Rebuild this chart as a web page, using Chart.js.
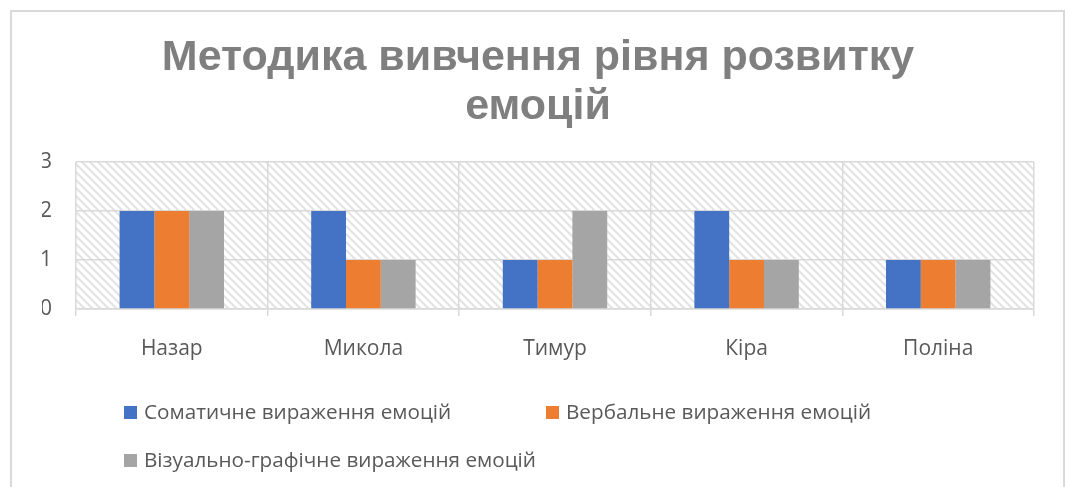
<!DOCTYPE html>
<html lang="uk">
<head>
<meta charset="utf-8"/>
<title>Методика вивчення рівня розвитку емоцій</title>
<script src="https://cdn.jsdelivr.net/npm/chart.js"></script>
<style>
  body { margin: 0; background: #fff; font-family: "Open Sans", sans-serif; }
  #wrap { position: relative; width: 1065px; height: 487px; overflow: hidden; }
  #frame { position: absolute; left: 10px; top: 10px; width: 1051px; height: 520px; border: 2px solid #d9d9d9; }
  canvas { position: absolute; left: 0; top: 0; }
  .leg { position: absolute; font-size: 20.7px; color: #595959; white-space: nowrap; line-height: 26px; }
  .leg i { display: inline-block; width: 13px; height: 13px; margin-right: 7px; vertical-align: 0px; }
</style>
</head>
<body>
<div id="wrap">
  <div id="frame"></div>
  <canvas id="grafik" width="1065" height="487"></canvas>
  <div id="legend"></div>
</div>
<script>
const judul = ["Методика вивчення рівня розвитку", "емоцій"];
const imena = ["Назар", "Микола", "Тимур", "Кіра", "Поліна"];
const seriNama = ["Соматичне вираження емоцій", "Вербальне вираження емоцій", "Візуально-графічне вираження емоцій"];
const somatic = [2, 2, 1, 2, 1];
const verbal = [2, 1, 1, 1, 1];
const visual = [2, 1, 2, 1, 1];
const warna = ["#4472c4", "#ed7d31", "#a5a5a5"];

// legend like in Excel: two columns
const posLegend = [[124, 398], [546, 398], [124, 446]];
const legEl = document.getElementById("legend");
seriNama.forEach((nama, i) => {
  const d = document.createElement("div");
  d.className = "leg";
  d.style.left = posLegend[i][0] + "px";
  d.style.top = posLegend[i][1] + "px";
  d.innerHTML = '<i style="background:' + warna[i] + '"></i>' + nama;
  legEl.appendChild(d);
});

// diagonal hatch in plot area
function buatPola() {
  const c = document.createElement("canvas");
  c.width = 8; c.height = 8;
  const g = c.getContext("2d");
  g.fillStyle = "#ffffff";
  g.fillRect(0, 0, 8, 8);
  g.strokeStyle = "#e3e3e3";
  g.lineWidth = 2;
  g.beginPath();
  g.moveTo(-2, -2); g.lineTo(10, 10);
  g.moveTo(-10, -2); g.lineTo(2, 10);
  g.moveTo(6, -2); g.lineTo(18, 10);
  g.stroke();
  return c;
}

const latarArsir = {
  id: "latarArsir",
  beforeDraw(chart) {
    const { ctx, chartArea: a } = chart;
    ctx.save();
    ctx.fillStyle = ctx.createPattern(buatPola(), "repeat");
    ctx.fillRect(a.left, a.top, a.right - a.left, a.bottom - a.top);
    ctx.restore();
  }
};

new Chart(document.getElementById("grafik"), {
  type: "bar",
  data: {
    labels: imena,
    datasets: [
      { label: seriNama[0], data: somatic, backgroundColor: warna[0] },
      { label: seriNama[1], data: verbal, backgroundColor: warna[1] },
      { label: seriNama[2], data: visual, backgroundColor: warna[2] }
    ]
  },
  options: {
    responsive: false,
    animation: false,
    layout: { padding: { left: 42, right: 31, top: 0, bottom: 118 } },
    datasets: { bar: { categoryPercentage: 0.545, barPercentage: 1 } },
    plugins: {
      legend: { display: false },
      tooltip: { enabled: false },
      title: {
        display: true,
        text: judul,
        color: "#7f7f7f",
        font: { family: "Liberation Sans", size: 43, weight: "bold", lineHeight: 1.14 },
        padding: { top: 34, bottom: 30 }
      }
    },
    scales: {
      x: {
        grid: { color: "#d9d9d9", lineWidth: 1.5, tickLength: 7 },
        border: { color: "#d9d9d9", width: 1.5 },
        ticks: { color: "#595959", font: { family: "Open Sans", size: 21 }, padding: 20 },
        afterFit(s) { s.height = 60; }
      },
      y: {
        min: 0, max: 3,
        ticks: { stepSize: 1, color: "#595959", font: { family: "Open Sans", size: 21 }, padding: 24 },
        grid: { color: "#d9d9d9", lineWidth: 1.5, drawTicks: false },
        border: { display: false },
        afterFit(s) { s.width = 34; }
      }
    }
  },
  plugins: [latarArsir]
});
</script>
</body>
</html>
